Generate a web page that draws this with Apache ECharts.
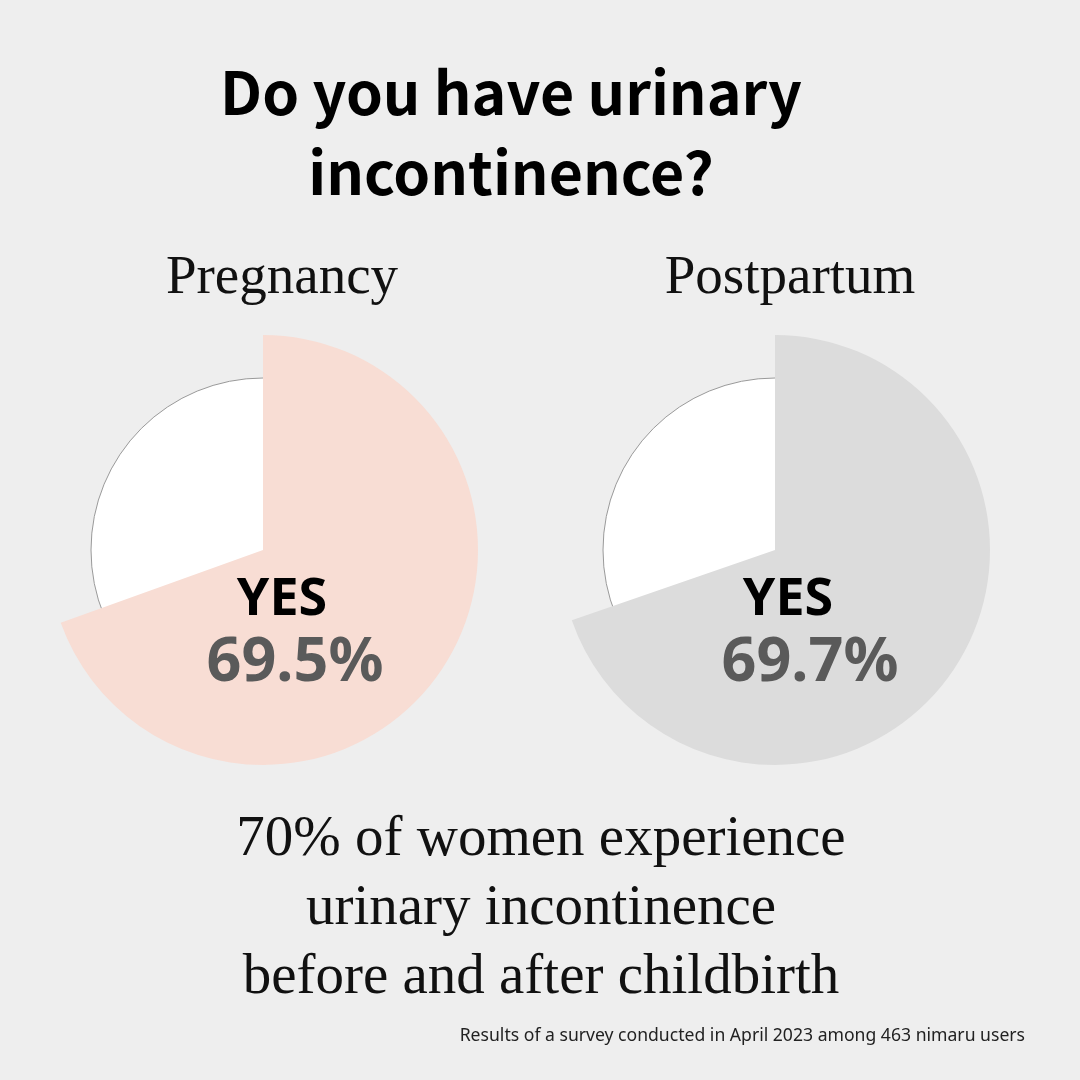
<!DOCTYPE html>
<html>
<head>
<meta charset="utf-8">
<script src="https://cdn.jsdelivr.net/npm/echarts@6/dist/echarts.min.js"></script>
<style>
html,body{margin:0;padding:0;background:#eeeeee;}
#c{width:1080px;height:1080px;}
</style>
</head>
<body>
<div id="c"></div>
<script>
// Data
const categories = ['YES', 'NO'];
const pieTitles = ['Pregnancy', 'Postpartum'];
const pregnancyValues = [69.5, 30.5];
const postpartumValues = [69.7, 30.3];
const titleLines = ['Do you have urinary', 'incontinence?'];
const bodyLines = ['70% of women experience', 'urinary incontinence', 'before and after childbirth'];
const footnote = 'Results of a survey conducted in April 2023 among 463 nimaru users';

const yesColors = ['#f8ddd4', '#dcdcdc'];
const centers = [[263, 550], [775, 550]];
const allValues = [pregnancyValues, postpartumValues];

const chart = echarts.init(document.getElementById('c'), null, {renderer: 'canvas'});

const series = [];
allValues.forEach((vals, i) => {
  const total = vals.reduce((a, b) => a + b, 0);
  // base white circle (the NO share background) with thin border
  series.push({
    type: 'pie', center: centers[i], radius: 172, silent: true, z: 1,
    label: {show: false}, labelLine: {show: false},
    data: [{name: 'ALL', value: total, itemStyle: {color: '#ffffff', borderColor: '#9a9a9a', borderWidth: 1}}],
    animation: false
  });
  series.push({
    type: 'pie', center: centers[i], radius: 215, startAngle: 90, clockwise: true, silent: true, z: 2,
    label: {show: false}, labelLine: {show: false},
    data: categories.map((c, k) => ({
      name: c, value: vals[k],
      itemStyle: {color: k === 0 ? yesColors[i] : 'rgba(0,0,0,0)', borderWidth: 0}
    })),
    animation: false
  });
});

const graphics = [];
const sansBold = '"Noto Sans CJK JP", "Noto Sans", sans-serif';
titleLines.forEach((t, i) => {
  graphics.push({type: 'text', x: 511, y: 93 + i * 80, z: 100,
    style: {text: t, fill: '#000', font: 'bold 59px ' + sansBold, textAlign: 'center', textVerticalAlign: 'middle'}});
});
pieTitles.forEach((t, i) => {
  graphics.push({type: 'text', x: [282, 790][i], y: 279, z: 100,
    style: {text: t, fill: '#111', font: '55px "Liberation Serif", "DejaVu Serif", serif', textAlign: 'center', textVerticalAlign: 'middle'}});
});
allValues.forEach((vals, i) => {
  graphics.push({type: 'text', x: [282, 788][i], y: 600, z: 100,
    style: {text: categories[0], fill: '#000', font: 'bold 52px "Noto Sans", sans-serif', textAlign: 'center', textVerticalAlign: 'middle'}});
  graphics.push({type: 'text', x: [295, 810][i], y: 664, z: 100,
    style: {text: vals[0].toFixed(1) + '%', fill: '#5a5a5a', font: 'bold 61px "Noto Sans", sans-serif', textAlign: 'center', textVerticalAlign: 'middle'}});
});
bodyLines.forEach((t, i) => {
  graphics.push({type: 'text', x: 541, y: 840 + i * 69, z: 100,
    style: {text: t, fill: '#111', font: '57px "Liberation Serif", "DejaVu Serif", serif', textAlign: 'center', textVerticalAlign: 'middle'}});
});
graphics.push({type: 'text', x: 1025, y: 1036, z: 100,
  style: {text: footnote, fill: '#222', font: '17.6px "Noto Sans", sans-serif', textAlign: 'right', textVerticalAlign: 'middle'}});

chart.setOption({
  backgroundColor: '#eeeeee',
  animation: false,
  series: series,
  graphic: graphics
});
</script>
</body>
</html>
